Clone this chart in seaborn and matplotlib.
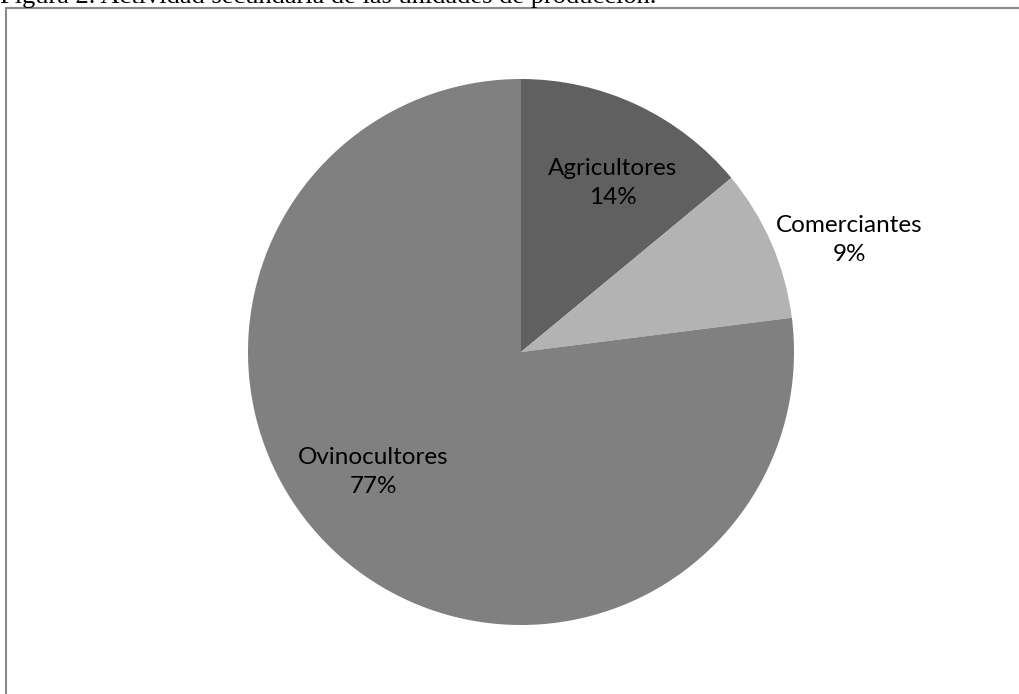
import matplotlib
matplotlib.use("Agg")
import matplotlib.pyplot as plt
import seaborn as sns
from matplotlib.lines import Line2D
import numpy as np

# Secondary activity of the production units (percent)
categories = ["Agricultores", "Comerciantes", "Ovinocultores"]
shares = [14, 9, 77]
colors = ["#606060", "#b3b3b3", "#808080"]

sns.set_theme(style="white")
plt.rcParams["font.family"] = ["Lato", "DejaVu Sans"]

W, H = 1020, 694
fig = plt.figure(figsize=(W / 100, H / 100), dpi=100)
fig.patch.set_facecolor("white")

# square axes centred on the pie
side = 600
cx, cy, r_px = 521, 352, 273
ax = fig.add_axes([(cx - side / 2) / W, (H - cy - side / 2) / H, side / W, side / H])
lim = (side / 2) / r_px

wedges, _ = ax.pie(shares, colors=colors, startangle=90, counterclock=False,
                   radius=1.0, wedgeprops=dict(linewidth=0))
ax.set_xlim(-lim, lim)
ax.set_ylim(-lim, lim)
ax.set_aspect("equal")
ax.axis("off")

# label anchors (relative to pie radius)
label_pos = [(0.335, 0.62), (1.203, 0.41), (-0.54, -0.44)]
for name, val, (lx, ly) in zip(categories, shares, label_pos):
    ax.text(lx, ly, f"{name}\n{val}%", ha="center", va="center",
            fontsize=17.5, color="#000000", linespacing=1.45)

# chart frame
frame_kw = dict(color="#8a8a8a", linewidth=1.5, transform=fig.transFigure)
x0 = 6.5 / W
y0 = 1 - 7.5 / H
fig.add_artist(Line2D([x0, x0], [y0, 0], **frame_kw))
fig.add_artist(Line2D([x0, 1], [y0, y0], **frame_kw))

# figure caption above the frame
fig.text(-0.5 / W, 1 - 3.5 / H,
         "Figura 2. Actividad secundaria de las unidades de producción.",
         ha="left", va="baseline", fontsize=19,
         family=["Liberation Serif", "DejaVu Serif"], color="#000000")

fig.savefig("out.png", dpi=100)
